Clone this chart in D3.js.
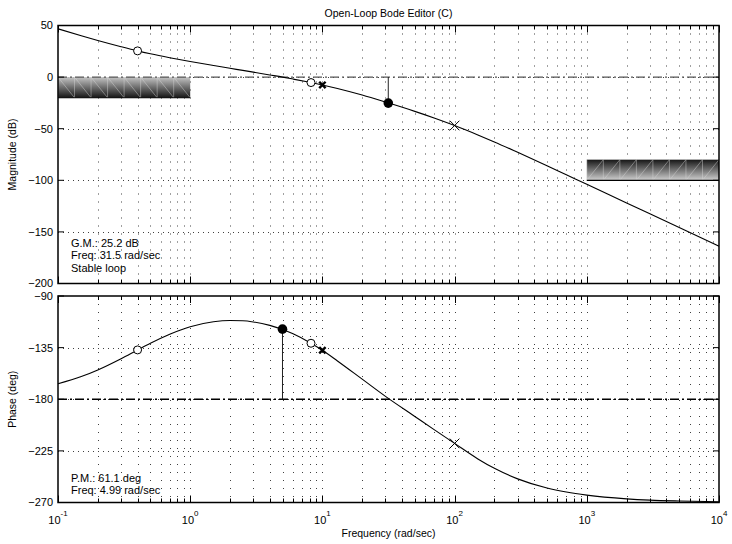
<!DOCTYPE html>
<html>
<head>
<meta charset="utf-8">
<script src="https://cdn.jsdelivr.net/npm/d3@7"></script>
<style>
    body { margin: 0; background: #fff; }
    svg { display: block; font-family: "Liberation Sans", Arial, Helvetica, sans-serif; }
</style>
</head>
<body>
<svg id="svg-bode" width="732" height="544"></svg>
<script>
// values
var freqs = [0.1, 0.15, 0.2, 0.3, 0.4, 0.5, 0.7, 1, 1.5, 2, 2.5, 3, 4, 5, 6, 8, 10, 13, 20, 30, 50, 70,
    100, 150, 200, 300, 500, 700, 1000, 2000, 3000, 5000, 10000];
var magDb = [46.8, 40.0, 35.4, 29.4, 25.4, 22.6, 18.8, 15.1, 11.2, 8.5, 6.5, 4.8, 2.1, 0.0, -1.9, -5.0, -7.6, -11.0,
    -17.4, -24.2, -33.2, -39.6, -46.9, -56.0, -62.8, -72.9, -85.9, -94.6, -103.8, -121.9, -132.4, -145.7, -163.8];
var phaseDeg = [-166.5, -160.2, -154.4, -144.6, -137.0, -131.2, -123.3, -116.8, -112.5, -111.4, -111.6, -112.6,
    -115.6, -119.2, -123.0, -130.5, -137.3, -146.6, -162.5, -177.5, -195.0, -206.5, -218.5, -232.0, -240.2,
    -249.4, -257.4, -260.9, -263.6, -266.8, -267.9, -268.7, -269.4];

var zeroFreqs = [0.4, 8.2];
var zeroMag = [25.4, -5.3];
var zeroPhase = [-137.0, -131.2];
var poleFreqs = [10, 100];
var poleMag = [-7.6, -46.9];
var polePhase = [-137.3, -218.5];
var poleBold = [true, false];

var gmFreq = 31.5, gmDb = -25.2;
var pmFreq = 4.99, pmPhase = -118.9;

var lowBoundFreq = [0.1, 1], lowBoundDb = [0, -20];
var highBoundFreq = [1000, 10000], highBoundDb = [-80, -100];

var magTicks = [50, 0, -50, -100, -150, -200];
var phaseTicks = [-90, -135, -180, -225, -270];
var decades = [0.1, 1, 10, 100, 1000, 10000];
var decadeExp = ["-1", "0", "1", "2", "3", "4"];

var gmText = ["G.M.: 25.2 dB", "Freq: 31.5 rad/sec", "Stable loop"];
var pmText = ["P.M.: 61.1 deg", "Freq: 4.99 rad/sec"];

var svg = d3.select("#svg-bode");

var x = d3.scaleLog().domain([0.1, 10000]).range([58, 719]);
var yMag = d3.scaleLinear().domain([-200, 50]).range([283.5, 25.5]);
var yPh = d3.scaleLinear().domain([-270, -90]).range([502.5, 296]);

var fmt = d3.format("d");
var defs = svg.append("defs");

var g1 = defs.append("linearGradient").attr("id", "lowGrad")
    .attr("x1", 0).attr("y1", 0).attr("x2", 0).attr("y2", 1);
g1.append("stop").attr("offset", "0%").attr("stop-color", "#c4c4c4");
g1.append("stop").attr("offset", "100%").attr("stop-color", "#161616");

var g2 = defs.append("linearGradient").attr("id", "highGrad")
    .attr("x1", 0).attr("y1", 0).attr("x2", 0).attr("y2", 1);
g2.append("stop").attr("offset", "0%").attr("stop-color", "#161616");
g2.append("stop").attr("offset", "100%").attr("stop-color", "#cfcfcf");

function drawPanel(y, ticks, opts) {
    var top = y.range()[1], bottom = y.range()[0];
    var left = x.range()[0], right = x.range()[1];
    var panel = svg.append("g");

    // grid
    panel.append("g").selectAll("line")
        .data(x.ticks().filter(function(d) { return d > 0.1 && d < 10000; }))
        .enter().append("line")
        .attr("x1", function(d) { return Math.round(x(d)) + 0.5; })
        .attr("x2", function(d) { return Math.round(x(d)) + 0.5; })
        .attr("y1", top).attr("y2", bottom)
        .attr("stroke", "#000").attr("stroke-opacity", 0.75)
        .attr("stroke-dasharray", "1,7");

    panel.append("g").selectAll("line")
        .data(ticks.slice(1, ticks.length - 1))
        .enter().append("line")
        .attr("x1", left).attr("x2", right)
        .attr("y1", function(d) { return Math.round(y(d)) + 0.5; })
        .attr("y2", function(d) { return Math.round(y(d)) + 0.5; })
        .attr("stroke", "#000").attr("stroke-opacity", 0.75)
        .attr("stroke-dasharray", "1,4");

    if (opts.bounds) opts.bounds(panel);

    // reference line (0 dB or -180 deg)
    panel.append("line")
        .attr("x1", left).attr("x2", right)
        .attr("y1", y(opts.refValue)).attr("y2", y(opts.refValue))
        .attr("stroke", opts.refColor).attr("stroke-width", 1.3)
        .attr("stroke-dasharray", "9,3,2,3");

    // margin stem
    panel.append("line")
        .attr("x1", x(opts.marginFreq)).attr("x2", x(opts.marginFreq))
        .attr("y1", y(opts.refValue)).attr("y2", y(opts.marginValue))
        .attr("stroke", "#222").attr("stroke-width", 1);

    var line = d3.line()
        .x(function(d, i) { return x(freqs[i]); })
        .y(function(d) { return y(d); })
        .curve(d3.curveMonotoneX);

    panel.append("path")
        .datum(opts.values)
        .attr("d", line)
        .attr("fill", "none")
        .attr("stroke", "#000")
        .attr("stroke-width", 1.1);

    // zeros
    panel.append("g").selectAll("circle")
        .data(zeroFreqs)
        .enter().append("circle")
        .attr("cx", function(d) { return x(d); })
        .attr("cy", function(d, i) { return y(opts.zeroValues[i]); })
        .attr("r", 4)
        .attr("fill", "#fff").attr("stroke", "#000").attr("stroke-width", 1);

    // poles
    panel.append("g").selectAll("path")
        .data(poleFreqs)
        .enter().append("path")
        .attr("transform", function(d, i) {
            return "translate(" + x(d) + "," + y(opts.poleValues[i]) + ")";
        })
        .attr("d", function(d, i) {
            var s = poleBold[i] ? 3.2 : 4.8;
            return "M" + (-s) + "," + (-s) + "L" + s + "," + s + "M" + (-s) + "," + s + "L" + s + "," + (-s);
        })
        .attr("stroke", "#000")
        .attr("stroke-width", function(d, i) { return poleBold[i] ? 2.4 : 1; });

    // margin dot
    panel.append("circle")
        .attr("cx", x(opts.marginFreq)).attr("cy", y(opts.marginValue))
        .attr("r", 4.8).attr("fill", "#000");

    // x ticks inside top and bottom
    var xt = panel.append("g");
    x.ticks().forEach(function(d) {
        var len = decades.indexOf(d) >= 0 ? 7 : 4;
        var px = Math.round(x(d)) + 0.5;
        xt.append("line").attr("x1", px).attr("x2", px).attr("y1", bottom).attr("y2", bottom - len)
            .attr("stroke", "#000");
        xt.append("line").attr("x1", px).attr("x2", px).attr("y1", top).attr("y2", top + len)
            .attr("stroke", "#000");
    });

    // y ticks and labels
    ticks.forEach(function(d) {
        var py = y(d);
        panel.append("line").attr("x1", left).attr("x2", left + 6).attr("y1", py).attr("y2", py)
            .attr("stroke", "#000");
        panel.append("line").attr("x1", right).attr("x2", right - 6).attr("y1", py).attr("y2", py)
            .attr("stroke", "#000");
        panel.append("text")
            .attr("x", 53).attr("y", py).attr("dy", "0.36em")
            .attr("text-anchor", "end")
            .attr("font-size", 11)
            .text(fmt(d));
    });

    // box
    panel.append("rect")
        .attr("x", left).attr("y", top)
        .attr("width", right - left).attr("height", bottom - top)
        .attr("fill", "none").attr("stroke", "#000").attr("stroke-width", 1.5);

    // axis title
    panel.append("text")
        .attr("transform", "translate(16," + ((top + bottom) / 2) + ") rotate(-90)")
        .attr("text-anchor", "middle")
        .attr("font-size", 10.5)
        .text(opts.label);

    // margins readout
    panel.append("g").selectAll("text")
        .data(opts.readout)
        .enter().append("text")
        .attr("x", 71)
        .attr("y", function(d, i) { return opts.readoutY + i * 12.4; })
        .attr("font-size", 11)
        .text(function(d) { return d; });
}

function hatchBound(panel, fr, db, gradId, rising) {
    var x0 = x(fr[0]), x1 = x(fr[1]);
    var yA = yMag(db[0]), yB = yMag(db[1]);
    var yt = Math.min(yA, yB), yb = Math.max(yA, yB);
    panel.append("rect")
        .attr("x", x0).attr("y", yt)
        .attr("width", x1 - x0).attr("height", yb - yt)
        .attr("fill", "url(#" + gradId + ")");
    var n = 8, w = (x1 - x0) / n;
    var hatch = panel.append("g")
        .attr("stroke", "#d8d8d8").attr("stroke-opacity", 0.55).attr("stroke-width", 0.8);
    d3.range(n).forEach(function(i) {
        var xa = x0 + i * w, xb = x0 + (i + 1) * w;
        hatch.append("line").attr("x1", xa).attr("x2", xa).attr("y1", yt).attr("y2", yb);
        if (rising)
            hatch.append("line").attr("x1", xa).attr("y1", yb).attr("x2", xb).attr("y2", yt);
        else
            hatch.append("line").attr("x1", xa).attr("y1", yt).attr("x2", xb).attr("y2", yb);
    });
    panel.append("line")
        .attr("x1", x0).attr("x2", x1).attr("y1", yb).attr("y2", yb)
        .attr("stroke", "#000").attr("stroke-width", 1.2);
}

drawPanel(yMag, magTicks, {
    values: magDb,
    zeroValues: zeroMag,
    poleValues: poleMag,
    refValue: 0,
    refColor: "#555",
    marginFreq: gmFreq,
    marginValue: gmDb,
    label: "Magnitude (dB)",
    readout: gmText,
    readoutY: 247,
    bounds: function(panel) {
        hatchBound(panel, lowBoundFreq, lowBoundDb, "lowGrad", false);
        hatchBound(panel, highBoundFreq, highBoundDb, "highGrad", true);
    }
});

drawPanel(yPh, phaseTicks, {
    values: phaseDeg,
    zeroValues: zeroPhase,
    poleValues: polePhase,
    refValue: -180,
    refColor: "#000",
    marginFreq: pmFreq,
    marginValue: pmPhase,
    label: "Phase (deg)",
    readout: pmText,
    readoutY: 481.5
});

// decade labels
var xl = svg.append("g").selectAll("text")
    .data(decades)
    .enter().append("text")
    .attr("x", function(d) { return x(d); })
    .attr("y", 524)
    .attr("text-anchor", "middle")
    .attr("font-size", 11);
xl.append("tspan").text("10");
xl.append("tspan")
    .attr("dy", -8)
    .attr("font-size", 8)
    .text(function(d, i) { return decadeExp[i]; });

svg.append("text")
    .attr("x", 388.5).attr("y", 537)
    .attr("text-anchor", "middle")
    .attr("font-size", 10.5)
    .text("Frequency (rad/sec)");

svg.append("text")
    .attr("x", 388.5).attr("y", 17)
    .attr("text-anchor", "middle")
    .attr("font-size", 10.5)
    .text("Open-Loop Bode Editor (C)");
</script>
</body>
</html>
